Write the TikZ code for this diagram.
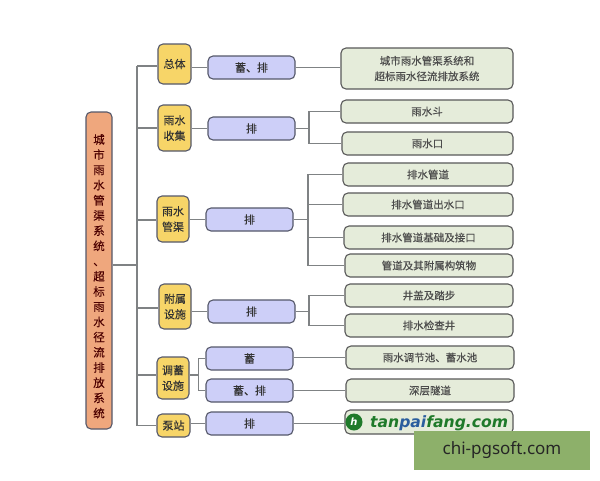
\documentclass[tikz,border=0pt]{standalone}
\usepackage{fontspec}
\setmainfont[FakeBold=0.25]{Noto Sans CJK SC}
\newfontfamily\wmfont{Noto Sans}
\newfontfamily\logofont{DejaVu Sans}
\definecolor{rootc}{HTML}{EFA77D}
\definecolor{yelc}{HTML}{F7D568}
\definecolor{lavc}{HTML}{CDCFF8}
\definecolor{grnc}{HTML}{E5ECDA}
\definecolor{edgec}{HTML}{55586A}
\definecolor{linec}{HTML}{7F8284}
\definecolor{wmc}{HTML}{8DB06A}
\definecolor{logog}{HTML}{1F7A2A}
\definecolor{logob}{HTML}{2A5E9E}
\tikzset{
 box/.style={draw=edgec,line width=1.1pt,rounded corners=5pt,inner sep=0pt,align=center,text=black!80},
 rootbox/.style={box,fill=rootc,font=\fontsize{11.5}{15.2}\selectfont,text=black!70!red},
 yelbox/.style={box,fill=yelc,font=\fontsize{11}{15.5}\selectfont},
 lavbox/.style={box,fill=lavc,font=\fontsize{11}{13}\selectfont},
 grnbox/.style={box,fill=grnc,draw=black!65,font=\fontsize{10.5}{15.5}\selectfont,text=black!70},
 link/.style={draw=linec,line width=1.2pt},
}
\newcommand{\bx}[6]{\node[#1,minimum width=#4pt-#3pt,minimum height=#6pt-#5pt,anchor=center] (#2) at ({(#3+#4)/2},{(#5+#6)/2})}
\begin{document}
\begin{tikzpicture}[x=1pt,y=-1pt]
\useasboundingbox (0,0) rectangle (600,480);
\fill[white] (0,0) rectangle (600,480);
% coordinates
\coordinate (t1) at (137,66);
\coordinate (t2) at (137,128);
\coordinate (t3) at (137,220);
\coordinate (t4) at (137,308);
\coordinate (t5) at (137,375);
\coordinate (t6) at (137,425.5);
\coordinate (tr) at (137,265);
% nodes
\bx{rootbox}{root}{86}{112}{112}{429} {\mbox{}\\[6pt]城\\市\\雨\\水\\管\\渠\\系\\统\\、\\超\\标\\雨\\水\\径\\流\\排\\放\\系\\统};
\bx{yelbox}{a1}{158}{191}{44}{84} {总体};
\bx{yelbox}{a2}{158}{191}{105}{151} {雨水\\收集};
\bx{yelbox}{a3}{157}{189}{196}{242} {雨水\\管渠};
\bx{yelbox}{a4}{159}{191}{284}{329} {附属\\设施};
\bx{yelbox}{a5}{157}{189}{357}{399} {调蓄\\设施};
\bx{yelbox}{a6}{157}{190}{414}{437} {泵站};
\bx{lavbox}{b1}{208}{295}{56}{79} {蓄、排};
\bx{lavbox}{b2}{208}{295}{117}{140} {排};
\bx{lavbox}{b3}{206}{293}{208}{231} {排};
\bx{lavbox}{b4}{208}{295}{300}{323} {排};
\bx{lavbox}{b5}{206}{293}{347}{370} {蓄};
\bx{lavbox}{b6}{206}{293}{379}{402} {蓄、排};
\bx{lavbox}{b7}{206}{293}{412}{435} {排};
\bx{grnbox}{c1}{341}{513}{48}{89} {城市雨水管渠系统和\\超标雨水径流排放系统};
\bx{grnbox}{c2}{341}{513}{100}{123} {雨水斗};
\bx{grnbox}{c3}{342}{513}{132}{155} {雨水口};
\bx{grnbox}{c4}{343}{513}{163}{186} {排水管道};
\bx{grnbox}{c5}{343}{513}{193}{216} {排水管道出水口};
\bx{grnbox}{c6}{344}{513}{226}{249} {排水管道基础及接口};
\bx{grnbox}{c7}{345}{513}{254}{277} {管道及其附属构筑物};
\bx{grnbox}{c8}{345}{513}{284}{307} {井盖及踏步};
\bx{grnbox}{c9}{345}{513}{314}{337} {排水检查井};
\bx{grnbox}{c10}{346}{514}{346}{369} {雨水调节池、蓄水池};
\bx{grnbox}{c11}{346}{514}{379}{402} {深层隧道};
\bx{grnbox}{c12}{345}{513}{410}{434} {};
% logo
\node[circle,fill=logog,minimum size=17pt,inner sep=0pt,text=white,font=\logofont\bfseries\itshape\fontsize{10}{10}\selectfont] (logoicon) at (354,422) {h};
\node[font=\logofont\bfseries\itshape\fontsize{15.6}{16}\selectfont,anchor=base west,inner sep=0pt] (logotext) at (370,427) {\textcolor{logog}{tan}\textcolor{logob}{pai}\textcolor{logog}{fang.com}};
% trunk
\draw[link] (t1)--(t6);
\draw[link] (root.east |- tr)--(tr);
\draw[link] (t1)--(a1.west |- t1);
\draw[link] (t2)--(a2.west |- t2);
\draw[link] (t3)--(a3.west |- t3);
\draw[link] (t4)--(a4.west |- t4);
\draw[link] (t5)--(a5.west |- t5);
\draw[link] (t6)--(a6.west |- t6);
% yellow to lavender
\draw[link] (a1.east |- b1.west)--(b1.west);
\draw[link] (a2.east |- b2.west)--(b2.west);
\draw[link] (a3.east |- b3.west)--(b3.west);
\draw[link] (a4.east |- b4.west)--(b4.west);
\draw[link] (a6.east |- b7.west)--(b7.west);
\coordinate (m5) at (198.5,375);
\draw[link] (a5.east |- m5)--(m5);
\draw[link] (b5.west)-|(m5)|-(b6.west);
% lavender to green
\draw[link] (b1.east)--(c1.west |- b1.east);
\draw[link] (b5.east |- c10.west)--(c10.west);
\draw[link] (b6.east |- c11.west)--(c11.west);
\draw[link] (b7.east)--(c12.west |- b7.east);
\coordinate (m2) at (309,128.5);
\draw[link] (b2.east)--(m2);
\draw[link] (c2.west)-|(m2)|-(c3.west);
\coordinate (m3) at (308,219.5);
\draw[link] (b3.east)--(m3);
\draw[link] (c4.west)-|(m3);
\draw[link] (c5.west)-|(m3);
\draw[link] (c6.west)-|(m3);
\draw[link] (c7.west)-|(m3);
\coordinate (m4) at (309,311.5);
\draw[link] (b4.east)--(m4);
\draw[link] (c8.west)-|(m4)|-(c9.west);
% watermark
\node[fill=wmc,minimum width=176pt,minimum height=39pt,inner sep=0pt,text=black!85,font=\wmfont\fontsize{17}{18}\selectfont] (wm) at (502,450.5) {chi-pgsoft.com};
\end{tikzpicture}
\end{document}
